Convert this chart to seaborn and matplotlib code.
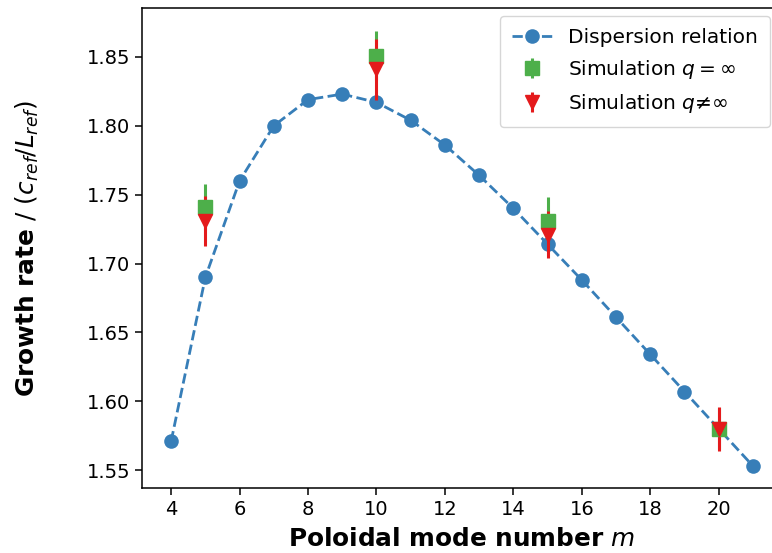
"""Growth rate vs poloidal mode number: dispersion relation and simulations."""

import matplotlib
matplotlib.use("Agg")
import matplotlib.pyplot as plt
import seaborn as sns

# dispersion relation
m_disp = [4, 5, 6, 7, 8, 9, 10, 11, 12, 13, 14, 15, 16, 17, 18, 19, 20, 21]
gamma_disp = [1.571, 1.690, 1.760, 1.800, 1.819, 1.823, 1.817, 1.804, 1.786,
              1.764, 1.740, 1.714, 1.688, 1.661, 1.634, 1.607, 1.580, 1.553]

# simulations
m_sim = [5, 10, 15, 20]
gamma_inf = [1.741, 1.851, 1.731, 1.580]
err_inf = [0.017, 0.018, 0.017, 0.015]
gamma_fin = [1.731, 1.841, 1.721, 1.580]
err_fin = [0.018, 0.022, 0.017, 0.016]

xticks = [4, 6, 8, 10, 12, 14, 16, 18, 20]
yticks = [1.55, 1.60, 1.65, 1.70, 1.75, 1.80, 1.85]

blue, green, red = "#377eb8", "#4daf4a", "#e41a1c"

fig = plt.figure(figsize=(7.72, 5.53), dpi=100)
ax = fig.add_axes([0.184, 0.1175, 0.829, 0.868])

sns.lineplot(x=m_disp, y=gamma_disp, ax=ax, color=blue, linestyle="--",
             linewidth=2, marker="o", markersize=10.5, markeredgewidth=0,
             markeredgecolor=blue, label="Dispersion relation")
ax.errorbar(m_sim, gamma_inf, yerr=err_inf, fmt="s", color=green,
            markersize=10.5, elinewidth=2.2, capsize=0,
            label=r"Simulation $q = \infty$")
ax.errorbar(m_sim, gamma_fin, yerr=err_fin, fmt="v", color=red,
            markersize=10.5, elinewidth=2.2, capsize=0,
            label=r"Simulation $q≠\infty$")

ax.set_xlim(3.15, 21.85)
ax.set_ylim(1.537, 1.8855)
ax.set_xticks(xticks)
ax.set_yticks(yticks)
ax.set_yticklabels([f"{v:.2f}" for v in yticks])
ax.tick_params(labelsize=14, length=5, width=1.1)
for sp in ax.spines.values():
    sp.set_linewidth(1.1)

ax.set_xlabel(r"Poloidal mode number $m$", fontsize=17.8, fontweight="bold",
              labelpad=6)
ax.set_ylabel(r"Growth rate $/\ (c_{ref}/L_{ref})$", fontsize=17.8,
              fontweight="bold")
ax.yaxis.set_label_coords(-0.158, 0.5)

ax.legend(loc="upper right", bbox_to_anchor=(770 / 772, 1 - 16 / 553),
          bbox_transform=fig.transFigure, borderaxespad=0, fontsize=14.5,
          borderpad=0.6, labelspacing=0.55)

fig.savefig("out.png", dpi=100)
